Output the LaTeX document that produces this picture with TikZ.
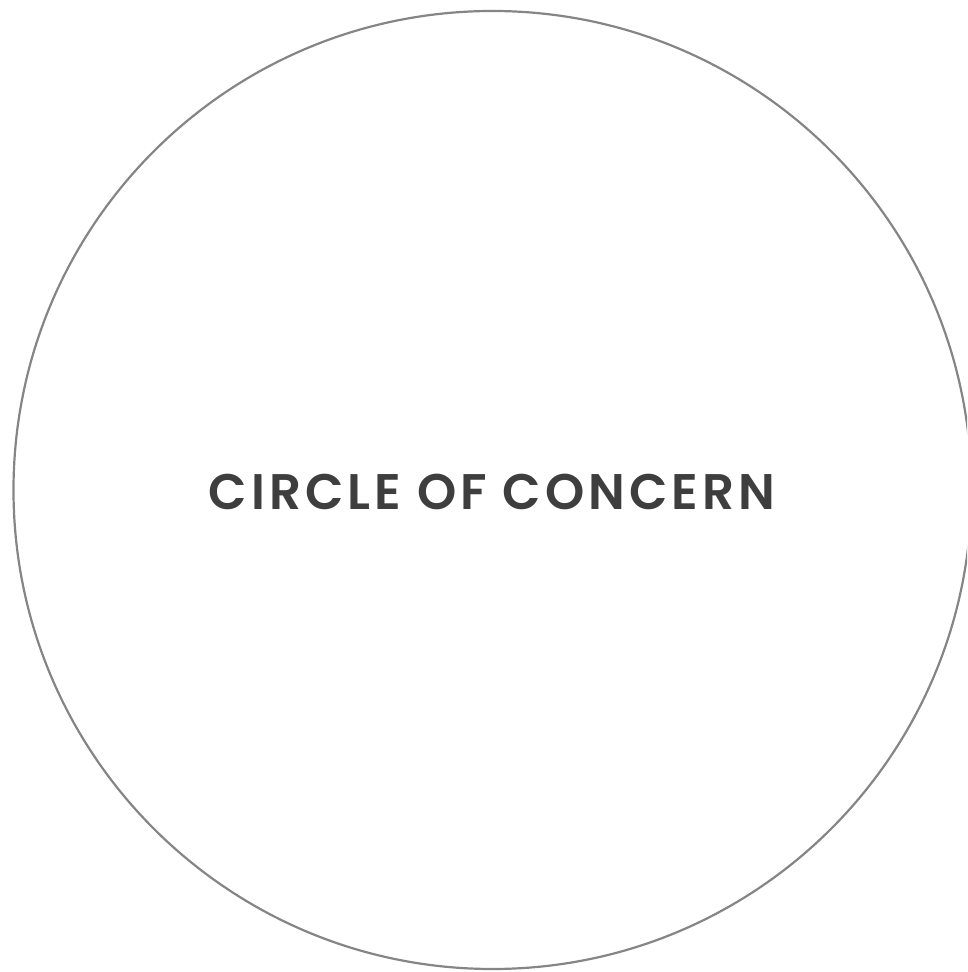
\documentclass[tikz,border=0pt]{standalone}
\usepackage{fontspec}
\setmainfont{Poppins}
\newfontfamily\titlefont[LetterSpace=8]{Poppins SemiBold}
\definecolor{ringgray}{HTML}{858585}
\definecolor{textgray}{HTML}{3E3E3E}
\begin{document}
\begin{tikzpicture}[x=1pt,y=1pt,
  ring/.style={draw=ringgray,line width=2.2pt},
  label/.style={font=\titlefont\fontsize{50}{50}\selectfont,text=textgray,inner sep=0pt}]
\useasboundingbox (0,0) rectangle (967,972);
\clip (0,0) rectangle (967,972);
\node[ring,circle,minimum size=958pt,inner sep=0pt] (concern) at (492.5,482) {};
\node[label] (title) at (492,480) {CIRCLE OF CONCERN};
\end{tikzpicture}
\end{document}
